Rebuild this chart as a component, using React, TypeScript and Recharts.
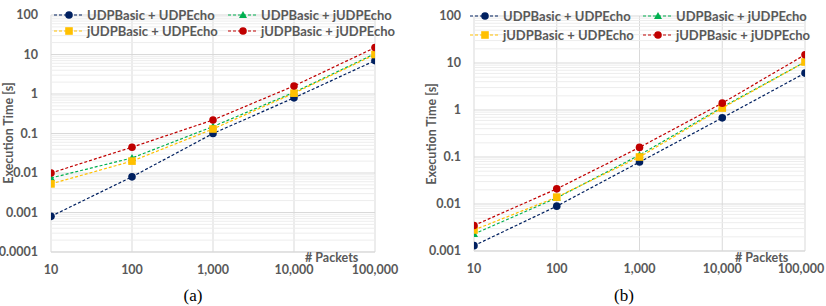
import { LineChart, Line, XAxis, YAxis, CartesianGrid, ReferenceLine, Legend } from 'recharts'

// x: number of packets sent
const PACKETS = [10, 100, 1000, 10000, 100000]

// (a) execution time [s]
const A_UDP_UDP = [0.0008, 0.008, 0.1, 0.8, 7]
const A_UDP_JUDP = [0.0075, 0.024, 0.15, 1.1, 10.5]
const A_JUDP_UDP = [0.0053, 0.02, 0.13, 1.05, 10]
const A_JUDP_JUDP = [0.01, 0.045, 0.22, 1.6, 15]

// (b) execution time [s]
const B_UDP_UDP = [0.0013, 0.009, 0.078, 0.68, 6.1]
const B_UDP_JUDP = [0.0023, 0.0135, 0.11, 1.15, 10.5]
const B_JUDP_UDP = [0.0028, 0.014, 0.1, 1.1, 10.5]
const B_JUDP_JUDP = [0.0035, 0.021, 0.16, 1.4, 15]

const X_TICKS = [10, 100, 1000, 10000, 100000]
const A_Y_TICKS = [0.0001, 0.001, 0.01, 0.1, 1, 10, 100]
const B_Y_TICKS = [0.001, 0.01, 0.1, 1, 10, 100]

const SERIES = [
    { key: 's1', name: 'UDPBasic + UDPEcho', color: '#002060', shape: 'circle' },
    { key: 's2', name: 'UDPBasic + jUDPEcho', color: '#00B050', shape: 'triangle' },
    { key: 's3', name: 'jUDPBasic + UDPEcho', color: '#FFC000', shape: 'square' },
    { key: 's4', name: 'jUDPBasic + jUDPEcho', color: '#C00000', shape: 'circle' },
]

const TEXT = '#595959'
const FONT = 'Lato, "Open Sans", sans-serif'

const buildRows = (cols: number[][]) =>
    PACKETS.map((p, i) => ({ packets: p, s1: cols[0][i], s2: cols[1][i], s3: cols[2][i], s4: cols[3][i] }))

// light log gridlines at 2..9 of every decade
const minorOf = (ticks: number[]) =>
    ticks.slice(0, -1).flatMap((t) => [2, 3, 4, 5, 6, 7, 8, 9].map((m) => +(t * m).toPrecision(3)))

function Marker({ shape, color, cx, cy }: { shape: string; color: string; cx: number; cy: number }) {
    if (shape === 'square') return <rect x={cx - 3.8} y={cy - 3.8} width={7.6} height={7.6} fill={color} />
    if (shape === 'triangle')
        return <polygon points={`${cx},${cy - 4} ${cx + 4},${cy + 3} ${cx - 4},${cy + 3}`} fill={color} />
    return <circle cx={cx} cy={cy} r={3.8} fill={color} />
}

const makeDot = (shape: string, color: string) => (props: any) => {
    const { cx, cy, index } = props
    if (cx == null || cy == null) return <g key={index} />
    return (
        <g key={index}>
            <Marker shape={shape} color={color} cx={cx} cy={cy} />
        </g>
    )
}

// x tick label, kept inside the chart's right edge
const makeXTick = (maxX: number) => (props: any) => {
    const { x, y, payload } = props
    return (
        <text
            x={Math.min(x, maxX)}
            y={y}
            dy="0.71em"
            textAnchor="middle"
            fill={TEXT}
            fontFamily={FONT}
            fontWeight={700}
            fontSize={12.5}
        >
            {Number(payload.value).toLocaleString('en-US')}
        </text>
    )
}

function LegendGrid({ colWidth, rowHeight }: { colWidth: number; rowHeight: number }) {
    return (
        <div style={{ display: 'grid', gridTemplateColumns: `${colWidth}px ${colWidth}px` }}>
            {SERIES.map((s) => (
                <div key={s.key} style={{ display: 'flex', alignItems: 'center', height: rowHeight }}>
                    <svg width={30} height={10} style={{ flex: 'none' }}>
                        <line x1={0} y1={5} x2={30} y2={5} stroke={s.color} strokeWidth={1.2} strokeDasharray="3 2" />
                        <Marker shape={s.shape} color={s.color} cx={15} cy={5} />
                    </svg>
                    <span style={{ marginLeft: 3, fontFamily: FONT, fontWeight: 700, fontSize: 13, color: TEXT, whiteSpace: 'nowrap' }}>
                        {s.name}
                    </span>
                </div>
            ))}
        </div>
    )
}

interface PanelProps {
    rows: any[]
    yTicks: number[]
    left: number
    width: number
    height: number
    margin: { top: number; right: number; bottom: number; left: number }
    yAxisWidth: number
    xAxisHeight: number
    legendPos: { left: number; top: number; colWidth: number; rowHeight: number }
}

function Panel({ rows, yTicks, left, width, height, margin, yAxisWidth, xAxisHeight, legendPos }: PanelProps) {
    const minor = minorOf(yTicks)
    return (
        <div style={{ position: 'absolute', left, top: 0 }}>
            <LineChart width={width} height={height} data={rows} margin={margin}>
                {minor.map((v) => (
                    <ReferenceLine key={v} y={v} stroke="#EDEDED" strokeWidth={1} />
                ))}
                <CartesianGrid stroke="#D9D9D9" verticalValues={X_TICKS} horizontalValues={yTicks} />
                <XAxis
                    dataKey="packets"
                    type="number"
                    scale="log"
                    domain={[10, 100000]}
                    ticks={X_TICKS}
                    allowDataOverflow
                    height={xAxisHeight}
                    axisLine={{ stroke: '#D9D9D9' }}
                    tickLine={false}
                    tickSize={0}
                    tickMargin={13}
                    tick={makeXTick(width - 25)}
                    interval={0}
                />
                <YAxis
                    type="number"
                    scale="log"
                    domain={[yTicks[0], yTicks[yTicks.length - 1]]}
                    ticks={yTicks}
                    allowDataOverflow
                    width={yAxisWidth}
                    axisLine={false}
                    tickLine={false}
                    tickSize={0}
                    tickMargin={13}
                    tick={{ fill: TEXT, fontFamily: FONT, fontWeight: 700, fontSize: 12.5 }}
                    tickFormatter={(v: number) => String(v)}
                    interval={0}
                />
                <Legend
                    layout="vertical"
                    align="center"
                    verticalAlign="middle"
                    wrapperStyle={{ left: legendPos.left, top: legendPos.top, width: 'auto' }}
                    content={() => <LegendGrid colWidth={legendPos.colWidth} rowHeight={legendPos.rowHeight} />}
                />
                {SERIES.map((s) => (
                    <Line
                        key={s.key}
                        dataKey={s.key}
                        name={s.name}
                        stroke={s.color}
                        strokeWidth={1.2}
                        strokeDasharray="3 2"
                        dot={makeDot(s.shape, s.color)}
                        activeDot={false}
                        isAnimationActive={false}
                    />
                ))}
            </LineChart>
        </div>
    )
}

const axisTitle: React.CSSProperties = {
    position: 'absolute',
    fontFamily: FONT,
    fontWeight: 700,
    fontSize: 12.5,
    color: TEXT,
    whiteSpace: 'nowrap',
}

const caption: React.CSSProperties = {
    position: 'absolute',
    fontFamily: '"Liberation Serif", "DejaVu Serif", serif',
    fontSize: 17,
    color: '#000',
    transform: 'translate(-50%, -50%)',
}

export default function App() {
    return (
        <div style={{ position: 'absolute', left: 0, top: 0, width: 826, height: 306, background: '#fff', overflow: 'hidden' }}>
            <Panel
                rows={buildRows([A_UDP_UDP, A_UDP_JUDP, A_JUDP_UDP, A_JUDP_JUDP])}
                yTicks={A_Y_TICKS}
                left={0}
                width={413}
                height={285}
                margin={{ top: 15, right: 38, bottom: 0, left: 0 }}
                yAxisWidth={51}
                xAxisHeight={33}
                legendPos={{ left: 54, top: 7, colWidth: 174, rowHeight: 16 }}
            />
            <Panel
                rows={buildRows([B_UDP_UDP, B_UDP_JUDP, B_JUDP_UDP, B_JUDP_JUDP])}
                yTicks={B_Y_TICKS}
                left={413}
                width={413}
                height={285}
                margin={{ top: 16, right: 21, bottom: 0, left: 0 }}
                yAxisWidth={61}
                xAxisHeight={34}
                legendPos={{ left: 57, top: 6, colWidth: 173, rowHeight: 19 }}
            />
            <div style={{ ...axisTitle, left: 8, top: 133, transform: 'translate(-50%, -50%) rotate(-90deg)' }}>
                Execution Time [s]
            </div>
            <div style={{ ...axisTitle, left: 431, top: 134, transform: 'translate(-50%, -50%) rotate(-90deg)' }}>
                Execution Time [s]
            </div>
            <div style={{ ...axisTitle, left: 305, top: 250 }}># Packets</div>
            <div style={{ ...axisTitle, left: 735, top: 250 }}># Packets</div>
            <div style={{ ...caption, left: 193, top: 296 }}>(a)</div>
            <div style={{ ...caption, left: 624, top: 296 }}>(b)</div>
        </div>
    )
}
